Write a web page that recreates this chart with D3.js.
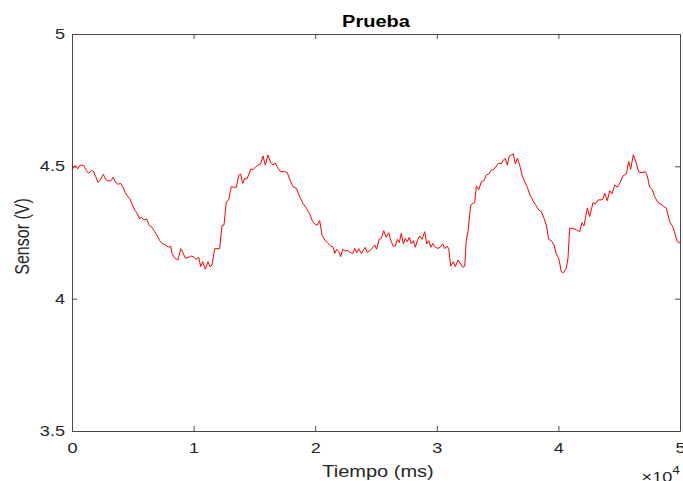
<!DOCTYPE html>
<html>
<head>
<meta charset="utf-8">
<script src="https://cdn.jsdelivr.net/npm/d3@7/dist/d3.min.js"></script>
<style>
  body { margin: 0; background: #fff; }
  svg { display: block; font-family: "Liberation Sans", Arial, Helvetica, sans-serif; }
</style>
</head>
<body>
<svg id="svg" width="683" height="481"></svg>
<script>
// values (time in ms, sensor in volts)
const timeMs = [
  0, 222, 354, 469, 576, 765, 987, 1176, 1373, 1587, 1752, 1949, 2138, 2327, 2574, 2771, 2961, 3183, 3396, 3561,
  3783, 4005, 4194, 4383, 4605, 4745, 4934, 5156, 5346, 5568, 5699, 5921, 6143, 6357, 6579, 6801, 7015, 7212, 7401, 7673,
  7952, 8117, 8224, 8446, 8717, 8939, 9129, 9318, 9540, 9762, 9976, 10198, 10420, 10584, 10749, 10963, 11185, 11349, 11514, 11736,
  12007, 12147, 12336, 12500, 12690, 12887, 13101, 13323, 13512, 13709, 13874, 14038, 14203, 14367, 14532, 14696, 14910, 15074, 15296, 15518,
  15707, 15897, 16118, 16340, 16530, 16719, 16941, 17163, 17492, 17706, 17903, 18175, 18446, 18726, 18997, 19268, 19548, 19737, 19959, 20173,
  20370, 20559, 20781, 21053, 21275, 21464, 21604, 21768, 21933, 22097, 22262, 22426, 22697, 22919, 23084, 23248, 23413, 23577, 23791, 23956,
  24120, 24285, 24565, 24729, 24894, 25058, 25248, 25437, 25634, 25848, 26045, 26210, 26399, 26588, 26752, 26917, 27081, 27246, 27411, 27575,
  27740, 27904, 28069, 28233, 28398, 28595, 28784, 29006, 29171, 29335, 29500, 29688, 29878, 30100, 30264, 30486, 30651, 30840, 30980, 31144,
  31358, 31522, 31745, 31909, 32131, 32296, 32427, 32567, 32789, 32978, 33118, 33250, 33447, 33661, 33882, 34071, 34268, 34482, 34704, 34893,
  35091, 35305, 35470, 35634, 35798, 35963, 36127, 36292, 36456, 36620, 36818, 37007, 37229, 37443, 37665, 37911, 38183, 38380, 38594, 38816,
  39005, 39202, 39416, 39638, 39827, 40025, 40239, 40403, 40650, 40789, 40929, 41201, 41472, 41752, 41941, 42105, 42377, 42574, 42846, 43035,
  43257, 43479, 43668, 43808, 44022, 44219, 44408, 44630, 44844, 45041, 45312, 45584, 45781, 45946, 46160, 46407, 46604, 46875, 47147, 47311,
  47509, 47698, 47920, 48191, 48520, 48874, 49153, 49425, 49778, 50000
];
const sensorV = [
  4.486, 4.502, 4.499, 4.490, 4.501, 4.505, 4.502, 4.484, 4.474, 4.484, 4.482, 4.461, 4.440, 4.448, 4.470, 4.451, 4.445, 4.445, 4.459, 4.441,
  4.432, 4.436, 4.421, 4.400, 4.385, 4.379, 4.358, 4.335, 4.323, 4.301, 4.308, 4.297, 4.301, 4.276, 4.270, 4.253, 4.237, 4.219, 4.209, 4.203,
  4.194, 4.199, 4.171, 4.153, 4.146, 4.189, 4.174, 4.153, 4.155, 4.161, 4.159, 4.149, 4.156, 4.121, 4.140, 4.111, 4.140, 4.121, 4.127, 4.189,
  4.189, 4.189, 4.277, 4.278, 4.366, 4.373, 4.423, 4.421, 4.421, 4.467, 4.471, 4.436, 4.455, 4.451, 4.467, 4.489, 4.489, 4.496, 4.505, 4.509,
  4.539, 4.505, 4.543, 4.514, 4.505, 4.512, 4.493, 4.480, 4.480, 4.476, 4.451, 4.423, 4.417, 4.385, 4.360, 4.342, 4.320, 4.297, 4.282, 4.278,
  4.295, 4.241, 4.222, 4.209, 4.199, 4.196, 4.171, 4.187, 4.178, 4.159, 4.187, 4.181, 4.181, 4.174, 4.169, 4.190, 4.174, 4.189, 4.171, 4.184,
  4.194, 4.174, 4.184, 4.194, 4.203, 4.187, 4.224, 4.228, 4.257, 4.232, 4.249, 4.222, 4.199, 4.199, 4.224, 4.212, 4.247, 4.207, 4.228, 4.215,
  4.232, 4.207, 4.219, 4.194, 4.219, 4.237, 4.224, 4.253, 4.207, 4.219, 4.194, 4.209, 4.194, 4.190, 4.194, 4.207, 4.189, 4.199, 4.189, 4.123,
  4.140, 4.121, 4.146, 4.134, 4.119, 4.123, 4.222, 4.253, 4.354, 4.360, 4.363, 4.426, 4.411, 4.442, 4.446, 4.467, 4.471, 4.486, 4.489, 4.501,
  4.512, 4.509, 4.524, 4.530, 4.505, 4.539, 4.543, 4.547, 4.509, 4.530, 4.505, 4.467, 4.442, 4.421, 4.392, 4.370, 4.350, 4.335, 4.329, 4.304,
  4.278, 4.224, 4.219, 4.203, 4.169, 4.153, 4.102, 4.098, 4.115, 4.153, 4.266, 4.266, 4.260, 4.253, 4.287, 4.275, 4.342, 4.310, 4.363, 4.358,
  4.373, 4.373, 4.376, 4.398, 4.370, 4.408, 4.396, 4.430, 4.421, 4.436, 4.464, 4.471, 4.518, 4.489, 4.544, 4.512, 4.479, 4.476, 4.480, 4.464,
  4.421, 4.413, 4.385, 4.363, 4.354, 4.342, 4.291, 4.270, 4.215, 4.210
];

const xTicks = [0, 10000, 20000, 30000, 40000, 50000];
const yTicks = [3.5, 4, 4.5, 5];
const titleText = "Prueba";
const xLabel = "Tiempo (ms)";
const yLabel = "Sensor (V)";

const data = timeMs.map((t, i) => ({t: t, v: sensorV[i]}));

const svg = d3.select("#svg");
const mLeft = 72, mRight = 680, mTop = 34, mBottom = 431;
const stretch = 1.25; // text in the reference is wider than it is tall
const ink = "#262626";

const x = d3.scaleLinear().domain([0, 50000]).range([mLeft, mRight]);
const y = d3.scaleLinear().domain([3.5, 5]).range([mBottom, mTop]);

function styleAxis(g) {
  g.selectAll("path.domain").attr("stroke", "#4a4a4a").attr("stroke-width", 1);
  g.selectAll(".tick line").attr("stroke", "#4a4a4a").attr("stroke-width", 1);
  g.selectAll("text").attr("fill", ink).style("font-size", "14.5px");
}

// bottom axis with labels
const gx = svg.append("g")
    .attr("transform", `translate(0,${mBottom})`)
    .call(d3.axisBottom(x).tickValues(xTicks).tickFormat(d => d / 1e4)
      .tickSizeInner(-5).tickSizeOuter(0).tickPadding(12));
styleAxis(gx);
gx.selectAll("text").attr("transform", `scale(${stretch},1)`);

// left axis with labels
const gy = svg.append("g")
    .attr("transform", `translate(${mLeft},0)`)
    .call(d3.axisLeft(y).tickValues(yTicks).tickFormat(d3.format("~g"))
      .tickSizeInner(-5).tickSizeOuter(0));
styleAxis(gy);
gy.selectAll("text").attr("x", 0).attr("transform", `translate(-7,0) scale(${stretch},1)`);

// top and right box sides, ticks only
const gt = svg.append("g")
    .attr("transform", `translate(0,${mTop})`)
    .call(d3.axisTop(x).tickValues(xTicks).tickFormat("").tickSizeInner(-5).tickSizeOuter(0));
styleAxis(gt);
const gr = svg.append("g")
    .attr("transform", `translate(${mRight},0)`)
    .call(d3.axisRight(y).tickValues(yTicks).tickFormat("").tickSizeInner(-5).tickSizeOuter(0));
styleAxis(gr);

// the signal
const line = d3.line().x(d => x(d.t)).y(d => y(d.v));
svg.append("path")
    .datum(data)
    .attr("fill", "none")
    .attr("stroke", "#ff0000")
    .attr("stroke-width", 1)
    .attr("stroke-linejoin", "round")
    .attr("d", line);

// title and labels
svg.append("text")
    .attr("transform", `translate(${(mLeft + mRight) / 2},27) scale(${stretch},1)`)
    .attr("text-anchor", "middle")
    .attr("fill", "#000")
    .style("font-size", "16px")
    .style("font-weight", "bold")
    .text(titleText);

svg.append("text")
    .attr("transform", `translate(${(mLeft + mRight) / 2 + 2},477) scale(${stretch},1)`)
    .attr("text-anchor", "middle")
    .attr("fill", ink)
    .style("font-size", "16px")
    .text(xLabel);

svg.append("text")
    .attr("transform", `translate(29,${(mTop + mBottom) / 2 + 4}) scale(${stretch},1) rotate(-90)`)
    .attr("text-anchor", "middle")
    .attr("fill", ink)
    .style("font-size", "16px")
    .text(yLabel);

// exponent marker under the x axis
const expo = svg.append("text")
    .attr("transform", `translate(${mRight},482) scale(${stretch},1)`)
    .attr("text-anchor", "end")
    .attr("fill", ink)
    .style("font-size", "14.5px");
expo.append("tspan").text("\u00d710");
expo.append("tspan").attr("dy", -8).style("font-size", "11px").text("4");
</script>
</body>
</html>
